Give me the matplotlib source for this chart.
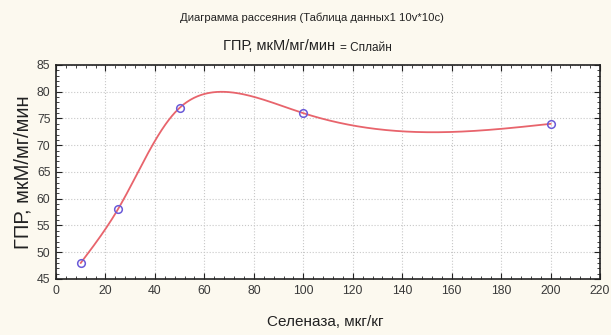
import numpy as np
import matplotlib
matplotlib.use("Agg")
import matplotlib.pyplot as plt
from matplotlib.ticker import MultipleLocator

x_vals = [10, 25, 50, 100, 200]
y_vals = [48, 58, 77, 76, 74]
title1 = "Диаграмма рассеяния (Таблица данных1 10v*10c)"
title2a = "ГПР, мкМ/мг/мин"
title2b = "= Сплайн"
xlabel = "Селеназа, мкг/кг"
ylabel = "ГПР, мкМ/мг/мин"


def natural_spline(ts, vs, tq):
    ts = np.asarray(ts, float)
    vs = np.asarray(vs, float)
    n = len(ts)
    h = np.diff(ts)
    A = np.zeros((n, n))
    b = np.zeros(n)
    A[0, 0] = 1
    A[-1, -1] = 1
    for i in range(1, n - 1):
        A[i, i - 1] = h[i - 1]
        A[i, i] = 2 * (h[i - 1] + h[i])
        A[i, i + 1] = h[i]
        b[i] = 6 * ((vs[i + 1] - vs[i]) / h[i] - (vs[i] - vs[i - 1]) / h[i - 1])
    M = np.linalg.solve(A, b)
    out = np.empty_like(tq)
    for k, tv in enumerate(tq):
        i = min(max(np.searchsorted(ts, tv) - 1, 0), n - 2)
        t1 = ts[i + 1] - tv
        t0 = tv - ts[i]
        hi = h[i]
        out[k] = (M[i] * t1 ** 3 / (6 * hi) + M[i + 1] * t0 ** 3 / (6 * hi)
                  + (vs[i] / hi - M[i] * hi / 6) * t1
                  + (vs[i + 1] / hi - M[i + 1] * hi / 6) * t0)
    return out


# parametric (chord-length) spline through the data points
yscale = 1.15
px = np.asarray(x_vals, float)
py = np.asarray(y_vals, float) * yscale
t = np.concatenate([[0], np.cumsum(np.hypot(np.diff(px), np.diff(py)))])
tq = np.linspace(0, t[-1], 500)
sx = natural_spline(t, x_vals, tq)
sy = natural_spline(t, y_vals, tq)

plt.rcParams['font.family'] = ['Liberation Sans', 'DejaVu Sans']
bg = '#fcf9ef'
fig = plt.figure(figsize=(6.11, 3.35), dpi=100, facecolor=bg)
ax = fig.add_axes([0.0917, 0.1672, 0.8903, 0.6388])
ax.set_facecolor('white')

ax.plot(sx, sy, color='#e8646c', lw=1.3, zorder=3)
ax.plot(x_vals, y_vals, 'o', ms=5.5, mfc='none', mec='#6a5ad8', mew=1.1, zorder=4)

ax.set_xlim(0, 220)
ax.set_ylim(45, 85)
ax.xaxis.set_major_locator(MultipleLocator(20))
ax.xaxis.set_minor_locator(MultipleLocator(4))
ax.yaxis.set_major_locator(MultipleLocator(5))
ax.yaxis.set_minor_locator(MultipleLocator(1))
ax.grid(True, which='major', color='#c8c8c8', ls=':', lw=0.8)
ax.tick_params(which='both', direction='in', top=True, right=True,
               labelsize=8.8, labelcolor='#3a3a3a', color='#222222', pad=4)
ax.tick_params(which='major', length=4)
ax.tick_params(which='minor', length=2)
for s in ax.spines.values():
    s.set_color('#222222')
    s.set_linewidth(1.2)

fig.text(0.533, 0.039, xlabel, ha='center', va='center', fontsize=11, color='#222222')
fig.text(0.038, 0.485, ylabel, ha='center', va='center', rotation=90,
         fontsize=14.5, color='#222222')

fig.text(0.51, 0.948, title1, ha='center', va='center', fontsize=8.1, color='#222222')
fig.text(0.548, 0.862, title2a, ha='right', va='center', fontsize=10.5, color='#222222')
fig.text(0.557, 0.858, title2b, ha='left', va='center', fontsize=8.5, color='#222222')

fig.savefig('out.png', dpi=100, facecolor=bg)
